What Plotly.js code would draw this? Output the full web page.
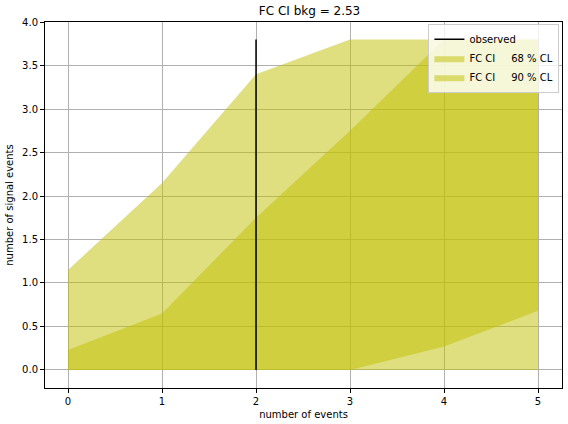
<!DOCTYPE html>
<html>
<head>
<script src="https://cdn.plot.ly/plotly-3.0.1.min.js"></script>
<style>body{margin:0}</style>
</head>
<body>
<div id="chart" style="width:568px;height:424px"></div>
<script>
var nEvents = [0, 1, 2, 3, 4, 5];
var upper68 = [0.23, 0.65, 1.75, 2.75, 3.8, 3.8];
var lower68 = [0, 0, 0, 0, 0.27, 0.68];
var upper90 = [1.15, 2.15, 3.4, 3.8, 3.8, 3.8];
var lower90 = [0, 0, 0, 0, 0, 0];
var observedX = [2, 2];
var observedY = [0, 3.8];

function band(lo, hi, name, rank) {
    return {
        x: nEvents.concat(nEvents.slice().reverse()),
        y: hi.concat(lo.slice().reverse()),
        fill: 'toself',
        fillcolor: 'rgba(191,191,0,0.5)',
        line: {width: 0},
        mode: 'lines',
        name: name,
        legendrank: rank,
        hoverinfo: 'skip'
    };
}

var data = [
    band(lower90, upper90, 'FC CI&nbsp;&nbsp;&nbsp;&nbsp; 90 % CL', 3),
    band(lower68, upper68, 'FC CI&nbsp;&nbsp;&nbsp;&nbsp; 68 % CL', 2),
    {x: observedX, y: observedY, mode: 'lines', line: {color: 'black', width: 1.5}, name: 'observed', legendrank: 1}
];

var axisStyle = {
    showgrid: true, gridcolor: '#b0b0b0', gridwidth: 1,
    zeroline: false, showline: true, mirror: true, linecolor: 'black', linewidth: 1,
    ticks: 'outside', ticklen: 4, tickcolor: 'black',
    tickfont: {size: 10, color: 'black'}
};

var layout = {
    width: 568, height: 424,
    margin: {l: 45, r: 6, t: 22, b: 36},
    font: {family: 'DejaVu Sans', color: 'black'},
    title: {text: 'FC CI bkg = 2.53', font: {size: 12}, x: 0.545, y: 0.985, yanchor: 'top'},
    plot_bgcolor: 'white', paper_bgcolor: 'white',
    showlegend: true,
    legend: {x: 0.995, y: 0.995, xanchor: 'right', yanchor: 'top', bgcolor: 'rgba(255,255,255,0.8)',
             bordercolor: '#cccccc', borderwidth: 1, font: {size: 10}},
    xaxis: Object.assign({}, axisStyle, {range: [-0.245, 5.255], dtick: 1,
        title: {text: 'number of events', font: {size: 10}, standoff: 4}}),
    yaxis: Object.assign({}, axisStyle, {range: [-0.207, 4.0], dtick: 0.5, tickformat: '.1f',
        title: {text: 'number of signal events', font: {size: 10}, standoff: 6}})
};

Plotly.newPlot('chart', data, layout, {displayModeBar: false});
</script>
</body>
</html>
